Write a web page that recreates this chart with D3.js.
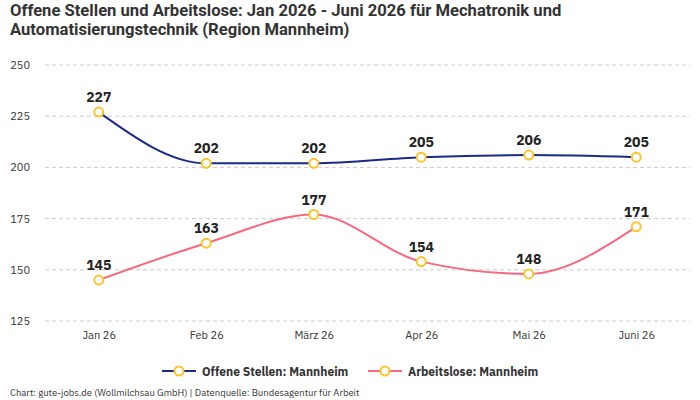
<!DOCTYPE html>
<html><head><meta charset="utf-8">
<script src="https://cdn.jsdelivr.net/npm/d3@7"></script>
<style>
body{margin:0;background:#fff;}
text{font-family:"IBM Plex Sans","Noto Sans",Roboto,sans-serif;}
</style></head><body>
<svg id="c" width="700" height="400"></svg>
<script>
const categories = ["Jan 26","Feb 26","März 26","Apr 26","Mai 26","Juni 26"];
const offeneStellen = [227,202,202,205,206,205];
const arbeitslose = [145,163,177,154,148,171];
const yTicks = [125,150,175,200,225,250];
const seriesNames = ["Offene Stellen: Mannheim","Arbeitslose: Mannheim"];
const seriesColors = ["#1b2a8a","#f8687f"];
const markerColor = "#fcc52c";
const titleLines = ["Offene Stellen und Arbeitslose: Jan 2026 - Juni 2026 für Mechatronik und","Automatisierungstechnik (Region Mannheim)"];

const svg = d3.select("#c");
const x = d3.scalePoint().domain(categories).range([45,690]).padding(0.5);
const y = d3.scaleLinear().domain([125,250]).range([321,65]);

const t1 = svg.append("text").attr("x",10).attr("y",16).attr("font-size",16).attr("font-weight","bold").attr("fill","#333")
  .style("font-family","Roboto,sans-serif").text(titleLines[0]);
const w = t1.node().getComputedTextLength();
const fs = 16*552/w;
t1.attr("font-size",fs);
svg.append("text").attr("x",10).attr("y",35).attr("font-size",fs).attr("font-weight","bold").attr("fill","#333")
  .style("font-family","Roboto,sans-serif").text(titleLines[1]);

// grid
svg.append("g").selectAll("line").data(yTicks).join("line")
  .attr("x1",45).attr("x2",690).attr("y1",d=>y(d)).attr("y2",d=>y(d))
  .attr("stroke","#ccc").attr("stroke-dasharray","4,3");
// y axis
const ya = svg.append("g").attr("transform","translate(45,0)").call(d3.axisLeft(y).tickValues(yTicks).tickSize(0).tickPadding(15));
ya.select(".domain").remove();
ya.selectAll("text").attr("font-size",11).attr("fill","#333").style("font-family",'"IBM Plex Sans","Noto Sans",Roboto,sans-serif');
// x axis
const xa = svg.append("g").attr("transform","translate(0,321)").call(d3.axisBottom(x).tickSize(0).tickPadding(10));
xa.select(".domain").remove();
xa.selectAll("text").attr("font-size",11).attr("fill","#333").style("font-family",'"IBM Plex Sans","Noto Sans",Roboto,sans-serif');

const line = d3.line().x((d,i)=>x(categories[i])).y(d=>y(d)).curve(d3.curveMonotoneX);
[offeneStellen, arbeitslose].forEach((s,k)=>{
  svg.append("path").datum(s).attr("d",line).attr("fill","none").attr("stroke",seriesColors[k]).attr("stroke-width",2);
});
[offeneStellen, arbeitslose].forEach((s,k)=>{
  const g = svg.append("g");
  g.selectAll("circle").data(s).join("circle")
    .attr("cx",(d,i)=>x(categories[i])).attr("cy",d=>y(d)).attr("r",4.5)
    .attr("fill","#fff").attr("stroke",markerColor).attr("stroke-width",2);
  g.selectAll("text").data(s).join("text")
    .attr("x",(d,i)=>x(categories[i])).attr("y",d=>y(d)-10)
    .attr("text-anchor","middle").attr("font-size",14).attr("font-weight","bold").attr("fill","#222")
    .text(d=>d);
});

// legend
const legX = [162,368];
seriesNames.forEach((n,k)=>{
  const g = svg.append("g").attr("transform",`translate(${legX[k]},371)`);
  g.append("line").attr("x1",0).attr("x2",34).attr("stroke",seriesColors[k]).attr("stroke-width",2);
  g.append("circle").attr("cx",17).attr("r",4.5).attr("fill","#fff").attr("stroke",markerColor).attr("stroke-width",2);
  g.append("text").attr("x",40).attr("y",4.5).attr("font-size",12).attr("font-weight","bold").attr("fill","#333").text(n);
});

svg.append("text").attr("x",10).attr("y",396).attr("font-size",9.5).attr("fill","#333")
  .text("Chart: gute-jobs.de (Wollmilchsau GmbH) | Datenquelle: Bundesagentur für Arbeit");
</script></body></html>
